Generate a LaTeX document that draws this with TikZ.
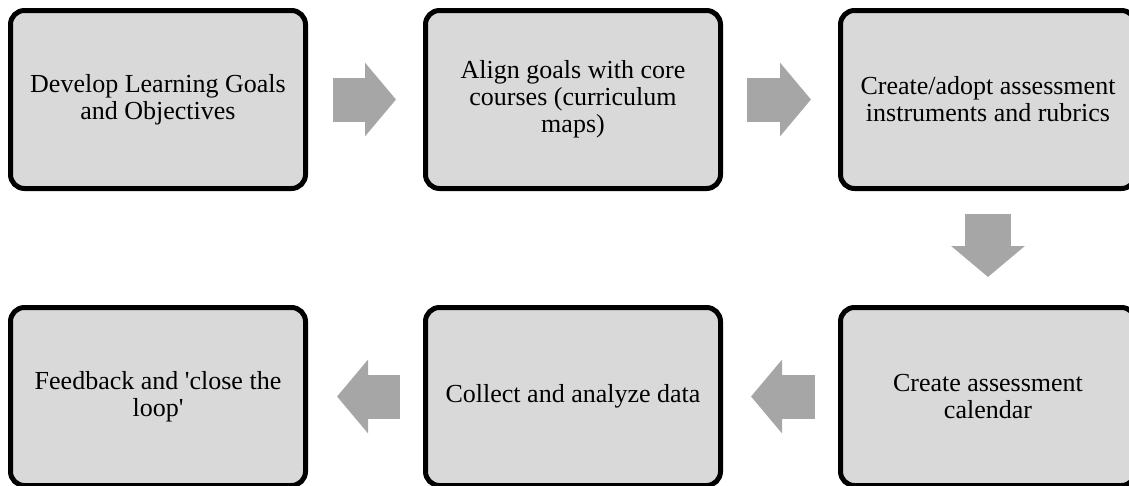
\documentclass[tikz,border=0pt]{standalone}
\usepackage{fontspec}
\setmainfont{Liberation Serif}
\usepackage{xcolor}
\usepackage{tikz}
\usetikzlibrary{arrows.meta,positioning,calc}

\definecolor{boxgray}{HTML}{D9D9D9}
\definecolor{arrowgray}{HTML}{A6A6A6}

\begin{document}
\begin{tikzpicture}[x=1pt,y=-1pt,node distance=114pt and 115pt,
  stage/.style={draw=black,fill=boxgray,line width=5pt,rounded corners=14pt,
    minimum width=295pt,minimum height=178pt,align=center,
    font=\fontsize{26}{27}\selectfont},
  flow/.style={draw=arrowgray,line width=44pt,
    -{Triangle[length=31pt,width=72pt]}}]
\useasboundingbox (0,0) rectangle (1129,485);

\node[stage] (goals) at (158,99.5) {Develop Learning Goals\\and Objectives};
\node[stage,right=of goals] (align) {Align goals with core\\courses (curriculum\\maps)};
\node[stage,right=of align] (instr) {Create/adopt assessment\\instruments and rubrics};
\node[stage,below=of instr] (calendar) {Create assessment\\calendar};
\node[stage,left=of calendar] (collect) {Collect and analyze data};
\node[stage,left=of collect] (feedback) {Feedback and \textquotesingle close the\\loop\textquotesingle};

\draw[flow] ([xshift=25pt]goals.east) -- ([xshift=-27pt]align.west);
\draw[flow] ([xshift=24pt]align.east) -- ([xshift=-27pt]instr.west);
\draw[flow,line width=46pt] ([yshift=-23pt]instr.south) -- ([yshift=28pt]calendar.north);
\draw[flow] ([xshift=-23pt]calendar.west) -- ([xshift=28pt]collect.east);
\draw[flow] ([xshift=-23pt]collect.west) -- ([xshift=29pt]feedback.east);
\end{tikzpicture}
\end{document}
